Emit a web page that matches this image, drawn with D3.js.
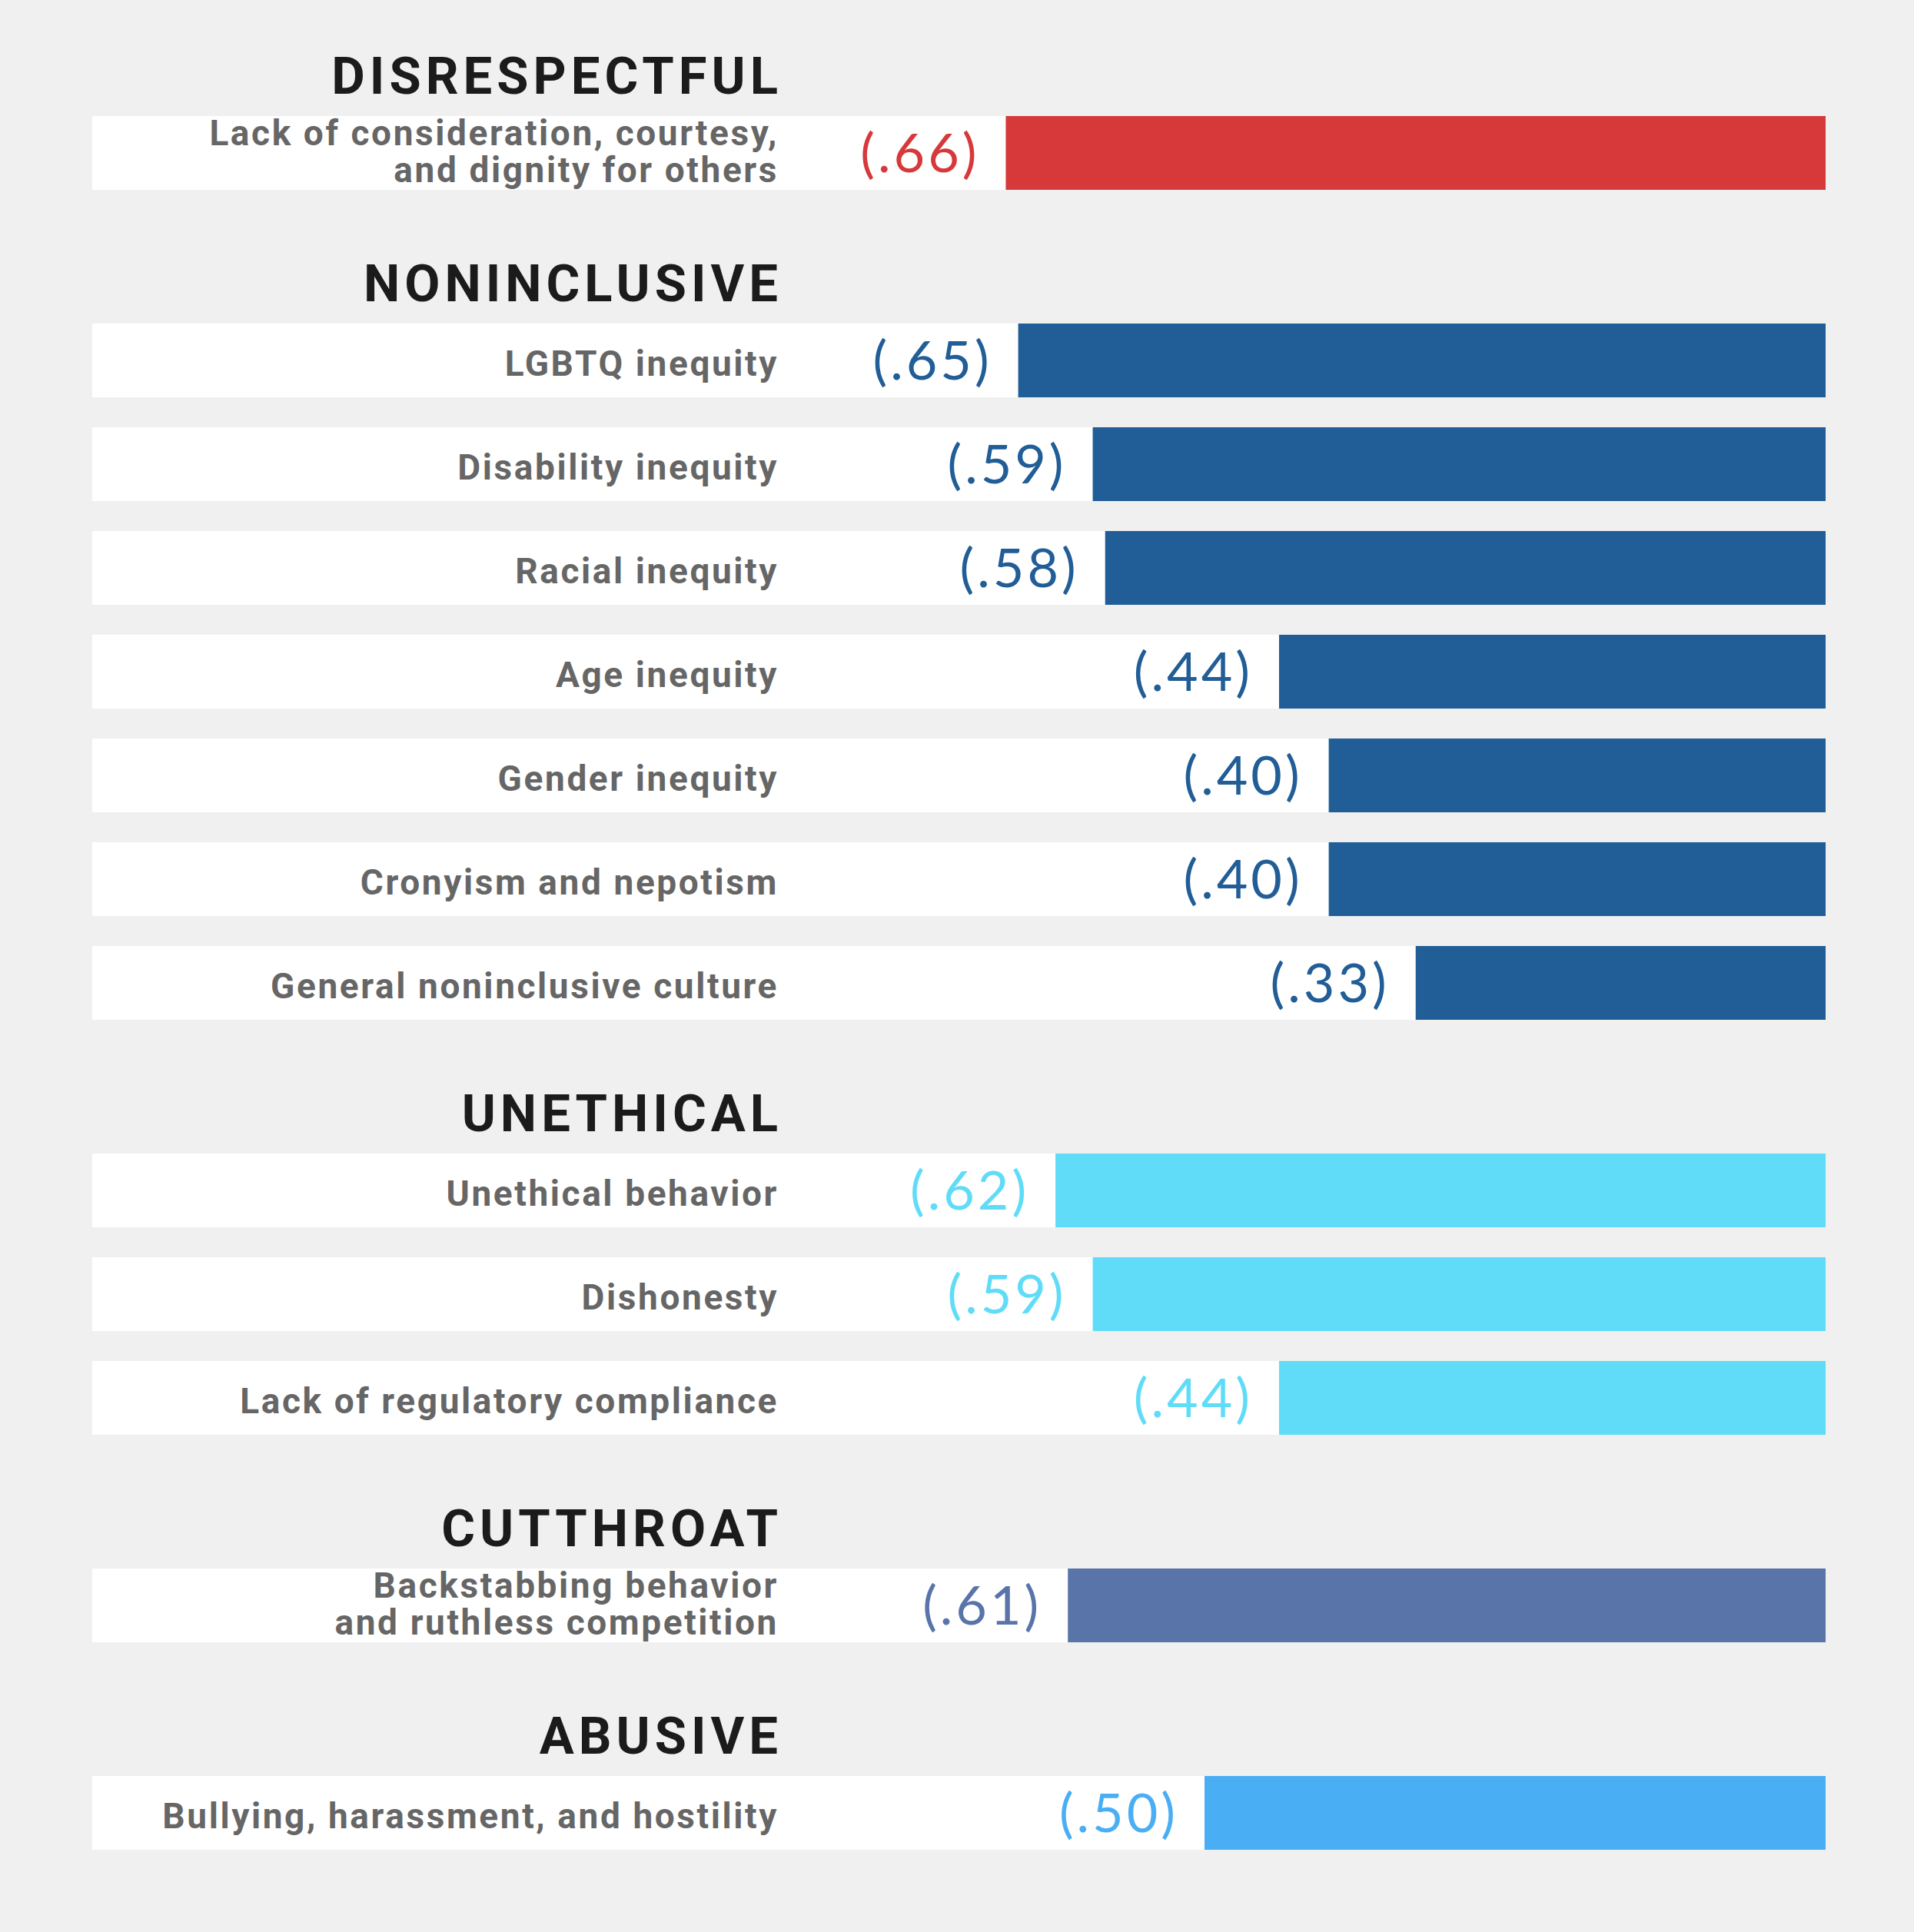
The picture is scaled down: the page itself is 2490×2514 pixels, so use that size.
<!DOCTYPE html>
<html>
<head>
<meta charset="utf-8">
<script src="https://cdn.jsdelivr.net/npm/d3@7"></script>
<style>
  html, body { margin: 0; padding: 0; background: #f0f0f0; }
  svg { display: block; }
</style>
</head>
<body>
<svg id="chart"></svg>
<script>
const width = 2490;
const height = 2514;

// categories, in drawing order
const groups = ["DISRESPECTFUL", "NONINCLUSIVE", "UNETHICAL", "CUTTHROAT", "ABUSIVE"];
const groupColors = ["#d7383a", "#215d96", "#60dcf8", "#5874a8", "#4aaef5"];

const labels = [
  ["Lack of consideration, courtesy,", "and dignity for others"],
  ["LGBTQ inequity"],
  ["Disability inequity"],
  ["Racial inequity"],
  ["Age inequity"],
  ["Gender inequity"],
  ["Cronyism and nepotism"],
  ["General noninclusive culture"],
  ["Unethical behavior"],
  ["Dishonesty"],
  ["Lack of regulatory compliance"],
  ["Backstabbing behavior", "and ruthless competition"],
  ["Bullying, harassment, and hostility"]
];
const values = [0.66, 0.65, 0.59, 0.58, 0.44, 0.40, 0.40, 0.33, 0.62, 0.59, 0.44, 0.61, 0.50];
const itemGroup = [0, 1, 1, 1, 1, 1, 1, 1, 2, 2, 2, 3, 4];

// lay out slots: a heading takes one slot, each item one slot
const headings = [];
const rows = [];
let slot = 0;
itemGroup.forEach((g, i) => {
  if (i === 0 || itemGroup[i - 1] !== g) {
    headings.push({ name: groups[g], slot: slot });
    slot += 1;
  }
  rows.push({ lines: labels[i], value: values[i], color: groupColors[g], slot: slot });
  slot += 1;
});

const bandLeft = 120;
const barRight = 2375;
const labelRight = 1010;
const rowHeight = 96;

const svg = d3.select("#chart").attr("width", width).attr("height", height);
svg.append("rect").attr("width", width).attr("height", height).attr("fill", "#f0f0f0");

const x = d3.scaleLinear().domain([0, 1]).range([barRight, barRight - 1616]);
const y = d3.scaleLinear().domain([0, 1]).range([16, 151]);

const root = svg.append("g");

root.selectAll("text.heading")
  .data(headings)
  .enter()
  .append("text")
  .attr("class", "heading")
  .attr("x", labelRight + 8)
  .attr("y", (d) => y(d.slot + 1) - 29)
  .attr("text-anchor", "end")
  .attr("font-family", "Roboto, 'Liberation Sans', sans-serif")
  .attr("font-weight", 700)
  .attr("font-size", 67)
  .attr("letter-spacing", 6)
  .attr("fill", "#1b1b1b")
  .text((d) => d.name);

const row = root.selectAll("g.row")
  .data(rows)
  .enter()
  .append("g")
  .attr("class", "row")
  .attr("transform", (d) => `translate(0,${y(d.slot)})`);

row.append("rect")
  .attr("x", bandLeft)
  .attr("width", barRight - bandLeft)
  .attr("height", rowHeight)
  .attr("fill", "#ffffff");

row.append("rect")
  .attr("x", (d) => x(d.value))
  .attr("width", (d) => barRight - x(d.value))
  .attr("height", rowHeight)
  .attr("fill", (d) => d.color);

row.append("text")
  .attr("text-anchor", "end")
  .attr("font-family", "Roboto, 'Liberation Sans', sans-serif")
  .attr("font-weight", 700)
  .attr("font-size", 46)
  .attr("letter-spacing", 2.6)
  .attr("fill", "#666666")
  .each(function (d) {
    const t = d3.select(this);
    const first = d.lines.length === 1 ? rowHeight / 2 + 20 : rowHeight / 2 - 10;
    d.lines.forEach((line, i) => {
      t.append("tspan")
        .attr("x", labelRight + 3)
        .attr("y", first + i * 48)
        .text(line);
    });
  });

row.append("text")
  .attr("x", (d) => x(d.value) - 34)
  .attr("y", rowHeight / 2 + 25)
  .attr("text-anchor", "end")
  .attr("font-family", "Lato, 'Open Sans', sans-serif")
  .attr("font-weight", 400)
  .attr("font-size", 70)
  .attr("letter-spacing", 4)
  .attr("fill", (d) => d.color)
  .text((d) => `(${d3.format(".2f")(d.value).replace(/^0/, "")})`);
</script>
</body>
</html>
